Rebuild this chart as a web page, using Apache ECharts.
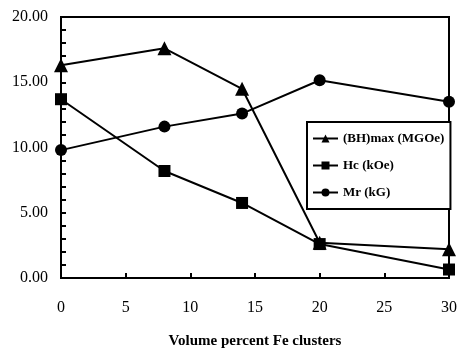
<!DOCTYPE html>
<html><head><meta charset="utf-8">
<script src="https://cdn.jsdelivr.net/npm/echarts@6/dist/echarts.min.js"></script>
<style>html,body{margin:0;padding:0;background:#fff}#c{width:460px;height:354px}</style>
</head><body><div id="c"></div>
<script>
const xValues = [0, 8, 14, 20, 30];
const bhmax = [16.3, 17.6, 14.5, 2.7, 2.2];
const hc = [13.7, 8.2, 5.75, 2.6, 0.65];
const mr = [9.8, 11.6, 12.6, 15.15, 13.5];
const seriesNames = ['(BH)max (MGOe)', 'Hc (kOe)', 'Mr (kG)'];
const xTitle = 'Volume percent Fe clusters';

const font = '"Liberation Serif", "DejaVu Serif", serif';
function mk(name, vals, symbol, size) {
  return {
    name: name, type: 'line', data: xValues.map((x, i) => [x, vals[i]]),
    symbol: symbol, symbolSize: size, showSymbol: true,
    lineStyle: {color: '#000', width: 2}, itemStyle: {color: '#000'},
    emphasis: {disabled: true}, animation: false, z: 3
  };
}
const chart = echarts.init(document.getElementById('c'));
chart.setOption({
  animation: false,
  backgroundColor: '#fff',
  grid: {left: 61, right: 9, top: 17, bottom: 73, show: true, borderColor: '#000', borderWidth: 2, containLabel: false},
  xAxis: {
    type: 'value', min: 0, max: 30, interval: 5,
    name: xTitle, nameLocation: 'middle', nameGap: 56,
    nameTextStyle: {fontFamily: font, fontWeight: 'bold', fontSize: 15, color: '#000'},
    axisLine: {show: true, lineStyle: {color: '#000', width: 2}},
    axisTick: {show: true, inside: true, length: 5, lineStyle: {color: '#000', width: 2}},
    axisLabel: {fontFamily: font, fontSize: 16, color: '#000', margin: 22},
    splitLine: {show: false}
  },
  yAxis: {
    type: 'value', min: 0, max: 20, interval: 5,
    axisLine: {show: true, lineStyle: {color: '#000', width: 2}},
    axisTick: {show: true, inside: true, length: 5, lineStyle: {color: '#000', width: 2}},
    minorTick: {show: true, splitNumber: 5, length: 5, lineStyle: {color: '#000', width: 2}},
    axisLabel: {fontFamily: font, fontSize: 16, color: '#000', margin: 13, formatter: v => v.toFixed(2)},
    splitLine: {show: false}
  },
  legend: {
    orient: 'vertical', left: 307, top: 122,
    backgroundColor: '#fff', borderColor: '#000', borderWidth: 2,
    padding: [10, 6, 10, 5], itemGap: 14, itemWidth: 25, itemHeight: 10,
    textStyle: {fontFamily: font, fontWeight: 'bold', fontSize: 13, color: '#000'},
    data: seriesNames
  },
  series: [
    mk(seriesNames[0], bhmax, 'triangle', 14),
    mk(seriesNames[1], hc, 'rect', 12),
    mk(seriesNames[2], mr, 'circle', 12)
  ]
});
</script></body></html>
